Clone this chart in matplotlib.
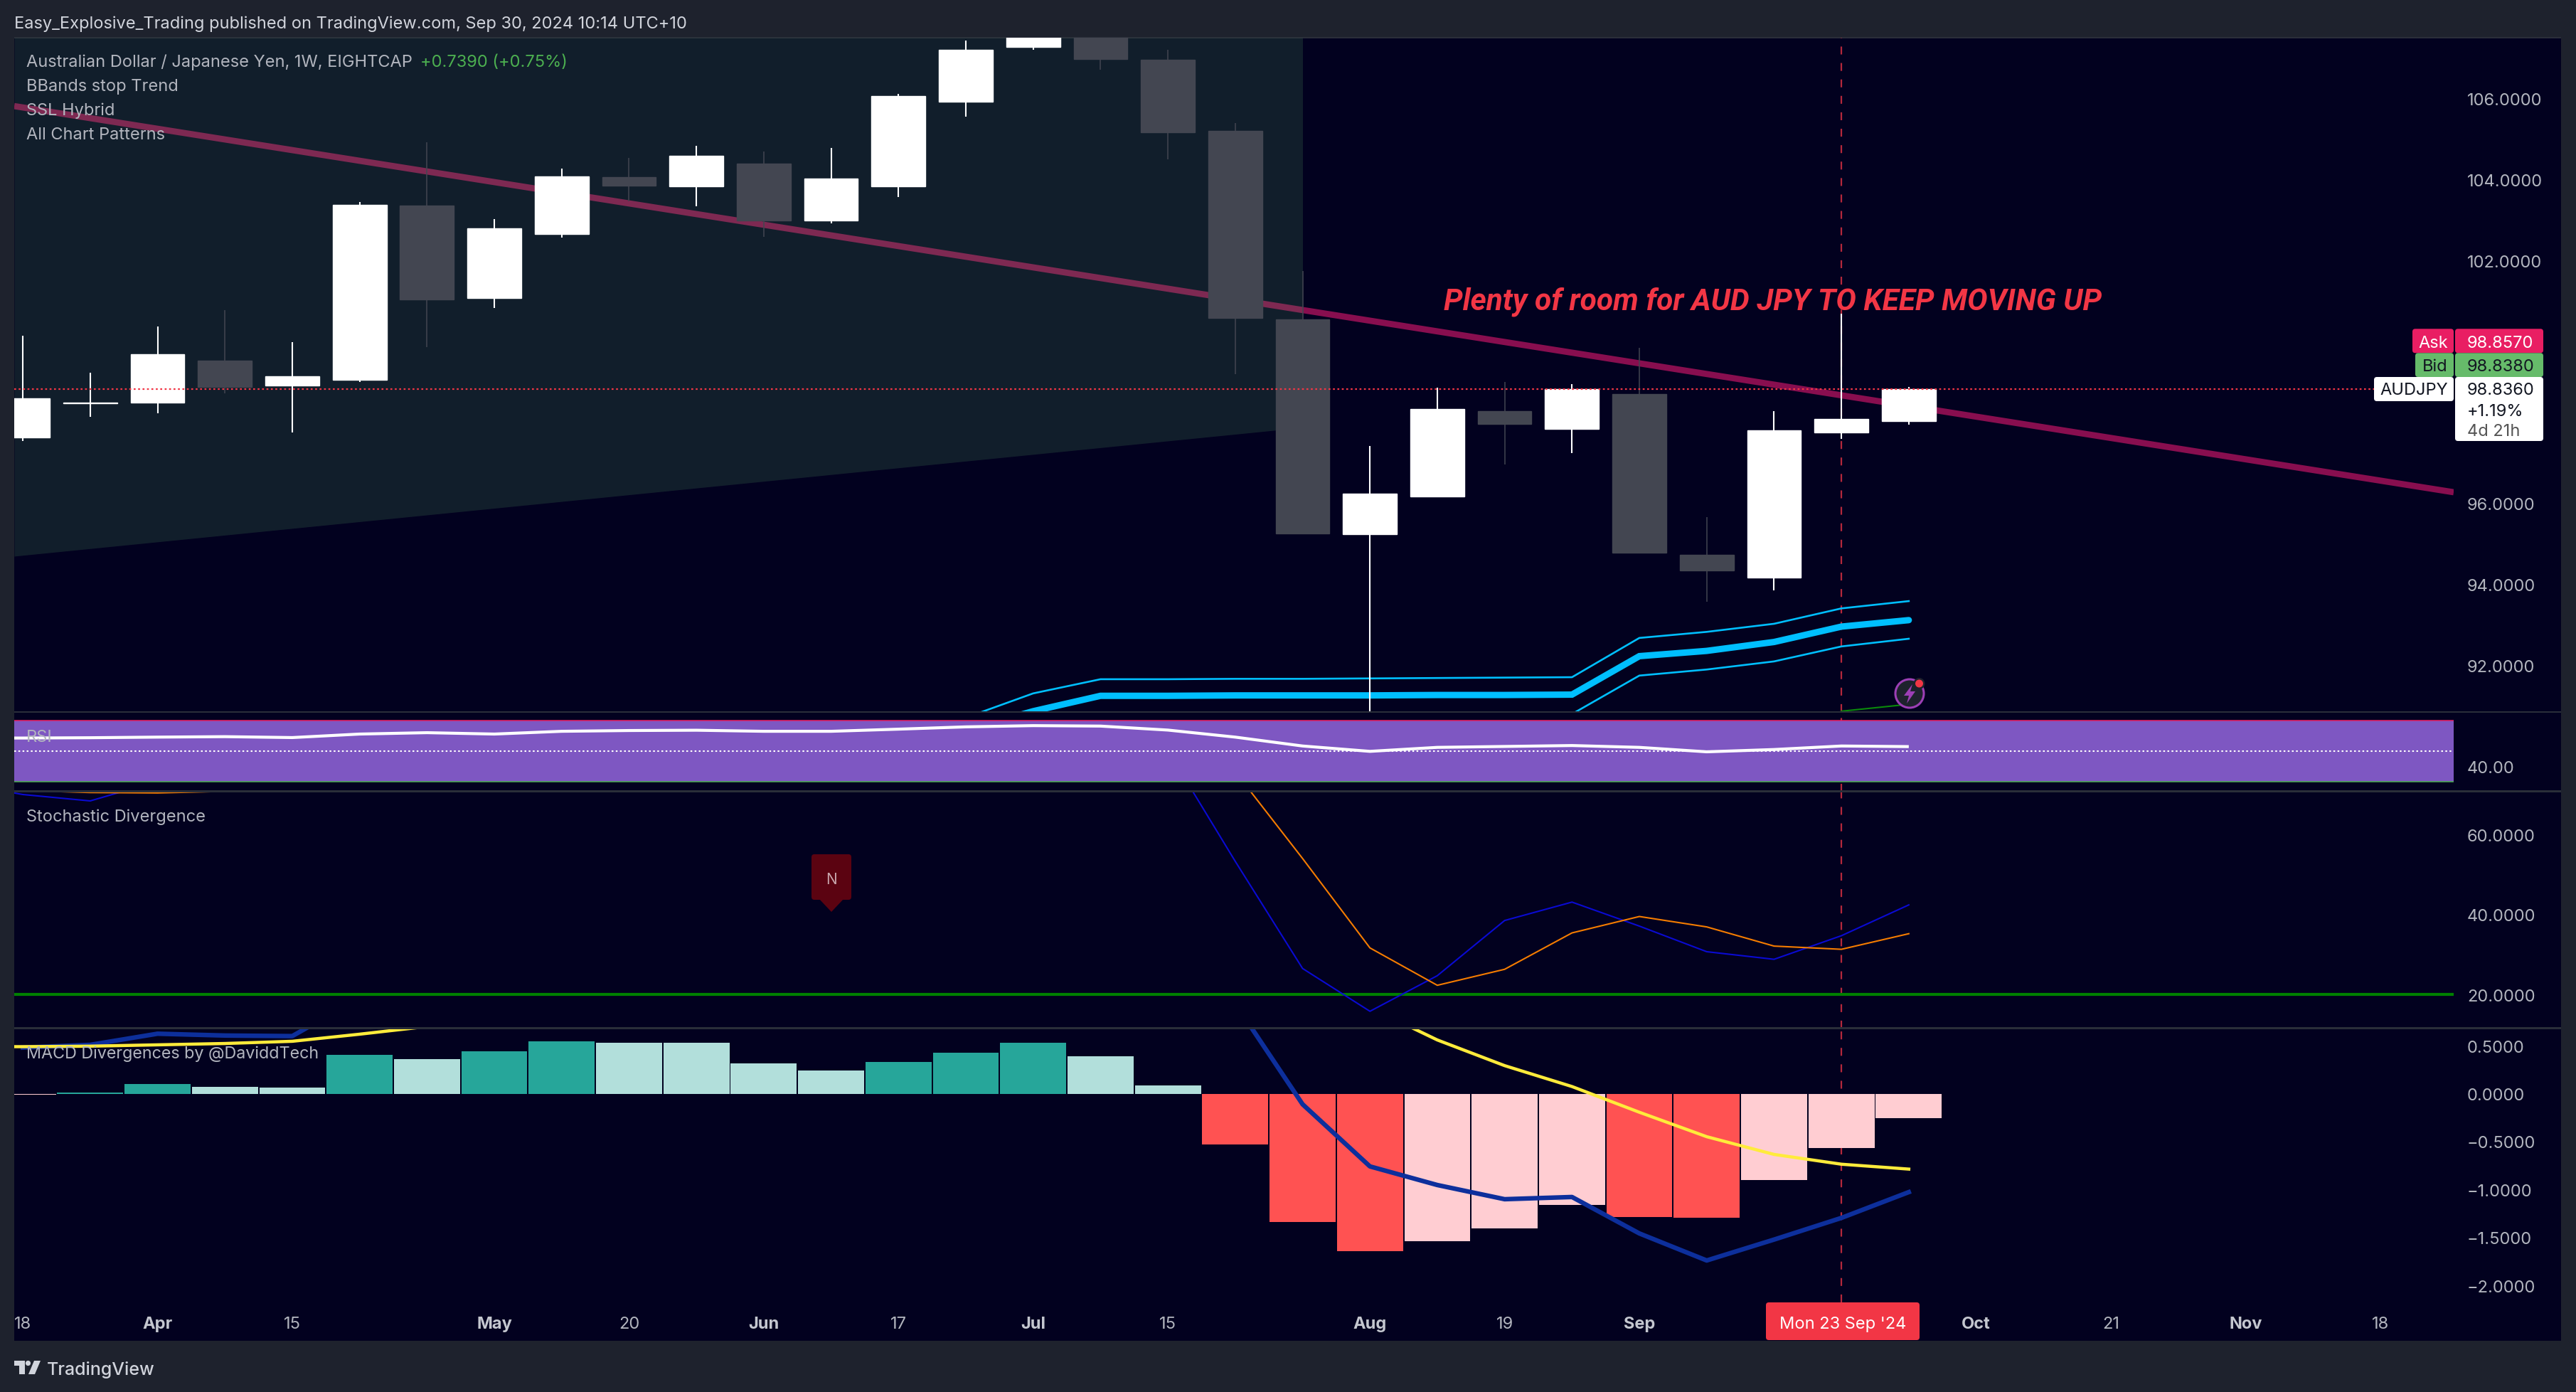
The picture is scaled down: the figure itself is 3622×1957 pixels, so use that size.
import numpy as np
import matplotlib
matplotlib.use("Agg")
import matplotlib.pyplot as plt
from matplotlib.patches import Rectangle, FancyBboxPatch, Circle, Polygon

W, H = 3622, 1958
nan = float('nan')

# ---------- data ----------
opens  = [97.63,98.47,98.49,99.53,98.92,99.06,103.36,101.08,102.66,104.07,103.84,104.40,102.99,103.84,105.93,107.28,108.00,106.96,105.21,100.55,95.24,96.17,98.28,97.84,98.70,94.73,94.17,97.76,98.04]
closes = [98.60,98.49,99.69,98.88,99.14,103.38,101.04,102.80,104.08,103.85,104.59,102.99,104.03,106.07,107.21,108.10,106.98,105.17,100.59,95.26,96.24,98.34,97.97,98.83,94.79,94.35,97.81,98.09,98.836]
highs  = [100.15,99.23,100.37,100.78,99.99,103.45,104.93,103.03,104.28,104.54,104.84,104.70,104.79,106.12,107.44,108.40,108.30,107.21,105.40,101.75,97.42,98.86,99.00,98.95,99.85,95.67,98.28,100.69,98.88]
lows   = [97.55,98.14,98.23,98.72,97.76,99.00,99.86,100.83,102.57,103.47,103.34,102.59,102.92,103.57,105.56,107.21,106.72,104.50,99.20,95.25,90.50,96.17,96.96,97.25,94.77,93.57,93.85,97.60,97.95]

band_mid   = [nan]*14 + [90.40,90.87,91.25,91.25,91.26,91.26,91.26,91.27,91.27,91.28,92.23,92.36,92.58,92.96,93.12]
band_upper = [nan]*14 + [90.71,91.31,91.66,91.66,91.67,91.67,91.68,91.69,91.70,91.71,92.68,92.83,93.03,93.41,93.59]
band_lower = [nan]*23 + [90.80,91.75,91.90,92.10,92.47,92.66]

trend_x = [-0.128, 36.09]
trend_y = [105.82, 96.28]
pattern_x = [-0.128, 19.0]
pattern_lo = [94.70, 97.88]
pattern_top = 107.51
signal_x = [27, 28]
signal_y = [90.87, 91.04]
last_price = 98.836

# oscillator series start one bar before the first candle (cut by the left edge)
rsi = [58.4,58.4,58.6,59.0,59.3,58.7,61.0,61.9,61.0,62.8,63.3,63.5,62.8,62.8,64.2,65.7,66.5,66.2,63.6,59.0,53.2,49.7,52.3,52.9,53.5,52.3,49.4,50.9,53.2,52.8]
stoch_k = [73.0,70.0,68.4,73.3]+[nan]*14+[81.0,53.3,26.5,15.8,24.7,38.5,43.1,37.1,30.7,28.8,34.7,42.4]
stoch_d = [nan,71.0,70.5,70.4,70.8]+[nan]*14+[75.7,54.0,31.65,22.3,26.3,35.4,39.5,36.9,32.1,31.3,35.2]
macd_line = [nan,0.48,0.509,0.625,0.606,0.60,1.0]+[nan]*12+[0.94,-0.111,-0.759,-0.953,-1.101,-1.078,-1.458,-1.74,-1.522,-1.296,-1.027]
macd_sig  = [0.49,0.49,0.495,0.509,0.523,0.546,0.62,0.70]+[nan]*13+[0.898,0.56,0.292,0.074,-0.194,-0.449,-0.634,-0.736,-0.787]

macd_hist = [-0.01,0.01,0.10,0.074,0.06,0.407,0.361,0.444,0.546,0.532,0.528,0.319,0.245,0.333,0.43,0.532,0.393,0.088,-0.528,-1.337,-1.643,-1.536,-1.402,-1.157,-1.286,-1.291,-0.898,-0.565,-0.255]
hist_kind = ['p','t','t','l','l','t','l','t','t','l','l','l','l','t','t','t','l','l','r','r','r','p','p','p','r','r','p','p','p']

price_ticks = [92,94,96,102,104,106]
stoch_ticks = [20,40,60]
macd_ticks = [-2,-1.5,-1,-0.5,0,0.5]
time_pos = [0,2,4,7,9,11,13,15,17,20,22,24,29,31,33,35]
time_lab = ['18','Apr','15','May','20','Jun','17','Jul','15','Aug','19','Sep','Oct','21','Nov','18']
months = {'Apr','May','Jun','Jul','Aug','Sep','Oct','Nov'}

# ---------- style ----------
BG='#1E222D'; PANE='#02011F'; TXT='#B2B5BE'; SEP='#2A2E39'; RED='#F23645'
plt.rcParams['font.family']=['Inter','Roboto','DejaVu Sans']
TS=17.0

fig=plt.figure(figsize=(W/100,H/100),dpi=100,facecolor=BG)
def axpx(x0,y0,x1,y1,**kw):
    return fig.add_axes([x0/W,1-y1/H,(x1-x0)/W,(y1-y0)/H],**kw)

bgax=axpx(0,0,W,H,zorder=0); bgax.set_xlim(0,W); bgax.set_ylim(H,0); bgax.axis('off')
bgax.add_patch(Rectangle((20,54),3581,1832,fc=PANE,ec='none'))
bgax.add_patch(Rectangle((20,53),3581,2,fc=SEP,ec='none'))

X0,X1=20,3450
xlim=(-0.128,36.09)
panes=[(54,1002,(90.85,107.51)),(1002,1113.5,(23.6,75.4)),(1113.5,1446.6,(11.56,70.8)),(1446.6,1832,(-2.177,0.682))]
axs=[]
for i,(t,b,yl) in enumerate(panes):
    a=axpx(X0,t,X1,b,zorder=2+i,facecolor='none')
    a.set_xlim(*xlim); a.set_ylim(*yl)
    for s in a.spines.values(): s.set_visible(False)
    a.yaxis.tick_right()
    a.tick_params(axis='y',length=0,pad=13.6,labelcolor=TXT,labelsize=TS)
    a.tick_params(axis='x',length=0)
    a.set_xticks([])
    a.set_yticks([])
    a.axvline(27,color=RED,lw=1.6,dashes=(5,5.4),alpha=.75,zorder=1.5)
    axs.append(a)
main,rsia,stoa,maca=axs
idx=np.arange(len(opens))
lidx=np.arange(-1,len(opens))

# main
main.plot(trend_x,trend_y,color='#880E4F',lw=6.3,solid_capstyle='butt',zorder=1)
main.fill_between(pattern_x,pattern_lo,[pattern_top]*2,color='#559C62',alpha=.194,lw=0,zorder=1.2)
main.plot(idx,band_upper,color='#00BFFF',lw=1.9,zorder=2)
main.plot(idx,band_lower,color='#00BFFF',lw=1.9,zorder=2)
main.plot(idx,band_mid,color='#00BFFF',lw=6.5,zorder=2,solid_capstyle='round',solid_joinstyle='miter')
main.plot(signal_x,signal_y,color='#0A8A0A',lw=1.5,zorder=2)
cols=['#FFFFFF' if c>=o else '#434651' for o,c in zip(opens,closes)]
lws=[1.5 if c=='#FFFFFF' else 1.1 for c in cols]
main.vlines(idx,lows,highs,colors=cols,lw=lws,zorder=3)
main.bar(idx,np.array(closes)-np.array(opens),bottom=opens,width=0.8,color=cols,ec=cols,lw=1,zorder=4)
main.axhline(last_price,color=RED,lw=1.6,dashes=(1.2,1.6),zorder=5)
main.set_yticks(price_ticks); main.set_yticklabels([f'{v:.4f}' for v in price_ticks])

# RSI
rsia.axhspan(30,70,color='#7E57C2',lw=0,zorder=2)
rsia.axhline(70,color='#E91E63',lw=1.1,zorder=2.2)
rsia.axhline(30,color='#4CAF50',lw=1.1,zorder=2.2)
rsia.axhline(50,color='#FFFFFF',lw=1.5,dashes=(1.2,1.6),zorder=2.3)
rsia.plot(lidx,rsi,color='#FFFFFF',lw=3,zorder=3,solid_capstyle='butt')
rsia.set_yticks([40]); rsia.set_yticklabels(['40.00'])

# Stochastic
stoa.axhline(20,color='#008000',lw=3,zorder=1.8)
stoa.plot(lidx,stoch_k,color='#0A0AD2',lw=1.5,zorder=3)
stoa.plot(lidx,stoch_d,color='#F57C00',lw=1.5,zorder=3)
stoa.set_yticks(stoch_ticks); stoa.set_yticklabels([f'{v:.4f}' for v in stoch_ticks])

# MACD
cmap={'t':'#26A69A','l':'#B2DFDB','r':'#FF5252','p':'#FFCDD2'}
maca.bar(idx,macd_hist,width=0.98,color=[cmap[k] for k in hist_kind],lw=0,zorder=2)
maca.plot(lidx,macd_line,color='#0D2F9C',lw=4.6,zorder=3)
maca.plot(lidx,macd_sig,color='#FFEB3B',lw=3.2,zorder=3.5)
maca.set_yticks(macd_ticks); maca.set_yticklabels([f'{v:.4f}'.replace('-','\u2212') for v in macd_ticks])
maca.set_xticks(time_pos); maca.set_xticklabels(time_lab)
maca.tick_params(axis='x',pad=14,labelsize=TS,labelcolor=TXT)
for l,s in zip(maca.get_xticklabels(),time_lab):
    if s in months:
        l.set_fontweight('bold'); l.set_color('#C4C7CF')

# overlay in pixels
ov=axpx(0,0,W,H,zorder=20); ov.set_xlim(0,W); ov.set_ylim(H,0); ov.axis('off'); ov.patch.set_alpha(0)
def T(x,y,s,c=TXT,ha='left',size=TS,**kw):
    return ov.text(x,y+2,s,color=c,ha=ha,va='center',fontsize=size,**kw)
def box(x0,y0,x1,y1,c,r=4):
    ov.add_patch(FancyBboxPatch((x0+r,y0+r),x1-x0-2*r,y1-y0-2*r,boxstyle=f'round,pad={r},rounding_size={r}',fc=c,ec='none'))
for y in (1002,1113.5,1446.6):
    ov.add_patch(Rectangle((20,y-1.2),3581,2.4,fc=SEP,ec='none',zorder=1))

T(20,32,'Easy_Explosive_Trading published on TradingView.com, Sep 30, 2024 10:14 UTC+10',c='#D1D4DC')
T(37,86,'Australian Dollar / Japanese Yen, 1W, EIGHTCAP')
T(591,86,'+0.7390 (+0.75%)',c='#4CAF50')
T(37,120,'BBands stop Trend'); T(37,154,'SSL Hybrid'); T(37,187.5,'All Chart Patterns')
T(37,1035,'RSI'); T(37,1147,'Stochastic Divergence'); T(37,1480,'MACD Divergences by @DaviddTech',size=16.8)
ov.text(2030,424,'Plenty of room for AUD JPY TO KEEP MOVING UP',color=RED,ha='left',va='center',fontsize=30.6,fontweight='bold',fontstyle='italic',family='Roboto')

# price labels
box(3392,463.3,3450,497.3,'#E91E63'); box(3452,463.3,3576,497.3,'#E91E63')
box(3396,497.3,3450,531,'#66BB6A'); box(3452,497.3,3576,531,'#66BB6A')
box(3338,531,3450,565,'#FFFFFF'); box(3452,531,3576,621,'#FFFFFF')
T(3442,480.7,'Ask',c='#FFFFFF',ha='right'); T(3469,480.7,'98.8570',c='#FFFFFF')
T(3442,514,'Bid',c='#131722',ha='right'); T(3469,514,'98.8380',c='#131722')
T(3442,547.3,'AUDJPY',c='#131722',ha='right'); T(3469,547.3,'98.8360',c='#131722')
T(3469,576.7,'+1.19%',c='#131722'); T(3469,605,'4d 21h',c='#555555')

# time label
box(2483,1832,2699,1885,RED,r=4)
T(2591,1860,"Mon 23 Sep '24",c='#FFFFFF',ha='center')

# N marker
box(1141,1202,1197,1266,'#5B0311',r=4)
ov.add_patch(Polygon([(1152,1265),(1186,1265),(1169,1283)],fc='#5B0311',ec='none'))
T(1169,1235,'N',c='#C9A7AD',ha='center',size=15)

# bolt icon
ov.add_patch(Circle((2685,976),20,fc='#1E222D',ec='#9C3FB5',lw=2.2))
ov.add_patch(Polygon([(2689,963),(2677,979),(2684,979),(2681,990),(2693,973),(2686,973)],fc='#9C3FB5',ec='none'))
ov.add_patch(Circle((2698.5,962),8,fc='#1E222D',ec='none'))
ov.add_patch(Circle((2698.5,962),5.5,fc=RED,ec='none'))

# logo
LC='#D1D4DC'
ov.add_patch(Polygon([(20,1914),(35,1914),(35,1933),(27,1933),(27,1921),(20,1921)],fc=LC,ec='none'))
ov.add_patch(Circle((39.5,1917.5),3.6,fc=LC,ec='none'))
ov.add_patch(Polygon([(48,1914),(57,1914),(49,1933),(40,1933)],fc=LC,ec='none'))
T(66,1924,'TradingView',c=LC,size=18,fontweight='medium')

fig.savefig('out.png',dpi=100,facecolor=BG)
